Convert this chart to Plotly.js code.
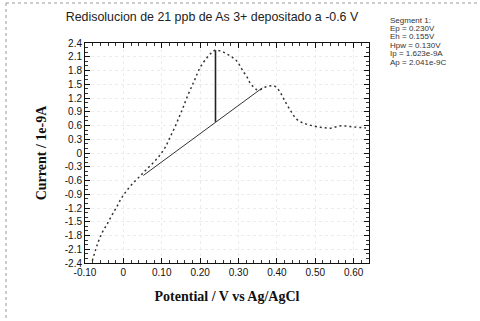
<!DOCTYPE html>
<html><head><meta charset="utf-8">
<script src="https://cdn.plot.ly/plotly-3.0.1.min.js"></script>
<style>html,body{margin:0;padding:0;background:#fff}#c{width:480px;height:321px}</style>
</head><body><div id="c"></div>
<script>
// Voltammogram
var potential = [-0.081,-0.073,-0.065,-0.056,-0.043,-0.030,-0.017,-0.006,0.007,0.026,0.044,0.060,0.078,0.096,0.110,0.122,0.135,0.147,0.156,0.165,0.178,0.187,0.199,0.217,0.229,0.239,0.252,0.263,0.274,0.285,0.296,0.304,0.312,0.322,0.330,0.339,0.348,0.356,0.364,0.375,0.386,0.396,0.404,0.413,0.421,0.430,0.439,0.451,0.464,0.477,0.495,0.513,0.525,0.538,0.550,0.564,0.577,0.588,0.600,0.613,0.628,0.642];
var current   = [-2.35,-2.13,-1.93,-1.75,-1.56,-1.36,-1.17,-1.00,-0.84,-0.65,-0.50,-0.36,-0.21,-0.04,0.14,0.35,0.58,0.82,1.00,1.20,1.45,1.62,1.85,2.07,2.18,2.24,2.23,2.19,2.14,2.08,2.00,1.90,1.78,1.66,1.53,1.44,1.38,1.38,1.42,1.45,1.47,1.45,1.38,1.26,1.13,1.00,0.88,0.74,0.67,0.63,0.59,0.56,0.55,0.54,0.56,0.59,0.59,0.58,0.57,0.56,0.55,0.54];
var baseX = [0.052, 0.362];
var baseY = [-0.49, 1.42];
var peakX = [0.240, 0.240];
var peakY = [0.68, 2.24];
var xTickVals = [-0.1,0,0.1,0.2,0.3,0.4,0.5,0.6];
var xTickText = ['-0.10','0','0.10','0.20','0.30','0.40','0.50','0.60'];
var yTickVals = [2.4,2.1,1.8,1.5,1.2,0.9,0.6,0.3,0,-0.3,-0.6,-0.9,-1.2,-1.5,-1.8,-2.1,-2.4];
var yTickText = ['2.4','2.1','1.8','1.5','1.2','0.9','0.6','0.3','0','-0.3','-0.6','-0.9','-1.2','-1.5','-1.8','-2.1','-2.4'];
var titleText = 'Redisolucion de 21 ppb de As 3+ depositado a -0.6 V';
var infoLines = ['Segment 1:','Ep = 0.230V','Eh = 0.155V','Hpw = 0.130V','Ip = 1.623e-9A','Ap = 2.041e-9C'];

var traces = [
  {x: potential, y: current, mode:'lines', line:{color:'#333', width:1.5, dash:'2px,3px', shape:'spline'}, hoverinfo:'skip'},
  {x: baseX, y: baseY, mode:'lines', line:{color:'#333', width:1}, hoverinfo:'skip'},
  {x: peakX, y: peakY, mode:'lines', line:{color:'#222', width:1.6}, hoverinfo:'skip'}
];
var annotations = infoLines.map(function(t,i){
  return {text:t, xref:'paper', yref:'paper', x:(388-85)/284, y:(263-20)/220 - i*8.4/220, xanchor:'left', yanchor:'middle', showarrow:false, font:{family:'Liberation Sans, Arial', size:8, color:'#333'}};
});
var tfont = {family:'Liberation Sans, Arial', size:10, color:'#111'};
var layout = {
  width:480, height:321,
  margin:{l:85, r:111, t:43, b:58},
  paper_bgcolor:'#fff', plot_bgcolor:'#fff',
  showlegend:false,
  title:{text:titleText, font:{family:'Liberation Sans, Arial', size:12.4, color:'#222'}, x:212/480, xref:'container', xanchor:'center', y:1-17/321, yref:'container', yanchor:'middle'},
  xaxis:{range:[-0.10,0.64], tickmode:'array', tickvals:xTickVals, ticktext:xTickText, ticks:'inside', ticklen:5, tickcolor:'#111',
    minor:{tickmode:'linear', tick0:0, dtick:0.02, ticks:'inside', ticklen:3, tickcolor:'#333', showgrid:false},
    showline:true, linecolor:'#111', linewidth:1, mirror:'ticks', zeroline:false,
    showgrid:true, gridcolor:'#ececec', griddash:'dot', gridwidth:1,
    tickfont:tfont, automargin:false,
    title:{text:'Potential / V vs Ag/AgCl', font:{family:'Liberation Serif, Times New Roman', size:14, color:'#111', weight:'bold'}, standoff:14}},
  yaxis:{range:[-2.4,2.4], tickmode:'array', tickvals:yTickVals, ticktext:yTickText, ticks:'inside', ticklen:5, tickcolor:'#111',
    minor:{tickmode:'linear', tick0:0, dtick:0.1, ticks:'inside', ticklen:3, tickcolor:'#333', showgrid:false},
    showline:true, linecolor:'#111', linewidth:1, mirror:'ticks', zeroline:false,
    showgrid:true, gridcolor:'#ececec', griddash:'dot', gridwidth:1,
    tickfont:tfont, automargin:false,
    title:{text:'Current / 1e-9A', font:{family:'Liberation Serif, Times New Roman', size:14, color:'#111', weight:'bold'}, standoff:14}},
  annotations: annotations,
  shapes:[
    {type:'line', xref:'paper', yref:'paper', x0:(6-85)/284, x1:(480-85)/284, y0:(263-3)/220, y1:(263-3)/220, line:{color:'#999', width:1, dash:'dot'}},
    {type:'line', xref:'paper', yref:'paper', x0:(6-85)/284, x1:(6-85)/284, y0:(263-3)/220, y1:(263-321)/220, line:{color:'#999', width:1, dash:'dot'}}
  ]
};
Plotly.newPlot('c', traces, layout, {displayModeBar:false, staticPlot:true});
</script></body></html>
